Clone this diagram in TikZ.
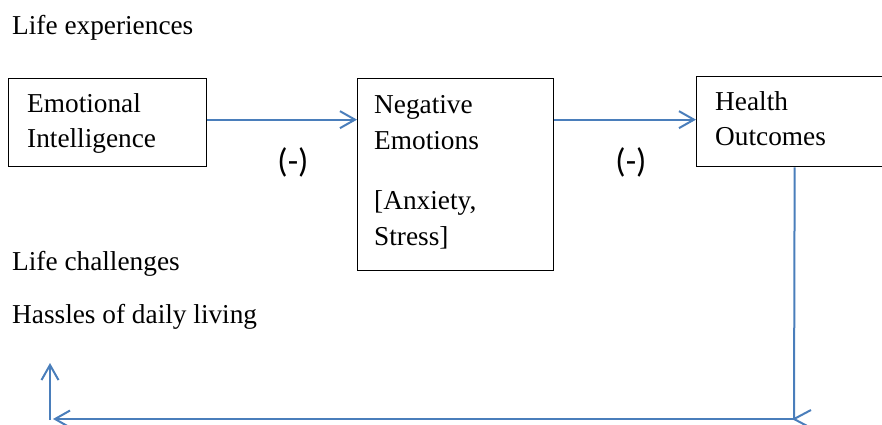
\documentclass[tikz,border=0pt]{standalone}
\usepackage{fontspec}
\setmainfont{Liberation Serif}
\newfontfamily\calibfont{Carlito}
\usetikzlibrary{arrows.meta}
\definecolor{arrowblue}{RGB}{74,126,187}
\begin{document}
\begin{tikzpicture}[x=1pt,y=-1pt,
  box/.style={draw=black, line width=1.3pt, inner sep=0pt, anchor=north west},
  lbl/.style={anchor=base west, inner sep=0pt, font=\rmfamily\fontsize{27.3}{35}\selectfont},
  sign/.style={inner sep=0pt, font=\calibfont\fontsize{34}{38}\selectfont},
  conn/.style={draw=arrowblue, line width=2pt},
  tip/.style={-{Straight Barb[length=15pt,width=17pt]}}]
\useasboundingbox (0,0) rectangle (882,424);
% boxes
\node[box, minimum width=198pt, minimum height=88pt] (ei) at (8,78) {};
\node[box, minimum width=196pt, minimum height=192pt] (ne) at (357,78) {};
\node[box, minimum width=196pt, minimum height=90pt] (ho) at (696,76) {};
% texts
\node[lbl] (t1) at (12,34) {Life experiences};
\node[lbl] (t2) at (27,112) {Emotional};
\node[lbl] (t3) at (27,147) {Intelligence};
\node[lbl] (t4) at (374,113) {Negative};
\node[lbl] (t5) at (374,149) {Emotions};
\node[lbl] (t6) at (374,209) {[Anxiety,};
\node[lbl] (t7) at (374,245) {Stress]};
\node[lbl] (t8) at (715,110) {Health};
\node[lbl] (t9) at (715,145) {Outcomes};
\node[lbl] (t10) at (12,270) {Life challenges};
\node[lbl] (t11) at (12,323) {Hassles of daily living};
\node[sign] (s1) at (293,162) {(-)};
\node[sign] (s2) at (631,162) {(-)};
% connectors
\path ([yshift=3pt]ei.east) coordinate (a1);
\draw[conn,tip] (a1) -- (a1 -| ne.west);
\path ([yshift=2pt]ho.west) coordinate (a2);
\draw[conn,tip] (a2 -| ne.east) -- (a2);
\coordinate (c1) at (794,419);
\coordinate (c2) at (53,419);
\coordinate (c3) at (50,420);
\coordinate (c4) at (50,363);
\draw[conn] (ho.south) -- (c1);
\draw[conn,tip] (c1) -- (c2);
\draw[conn] ([xshift=17pt,yshift=9pt]c1) -- (c1) -- ([xshift=17pt,yshift=-9pt]c1);
\draw[conn,tip] (c3) -- (c4);
\end{tikzpicture}
\end{document}
